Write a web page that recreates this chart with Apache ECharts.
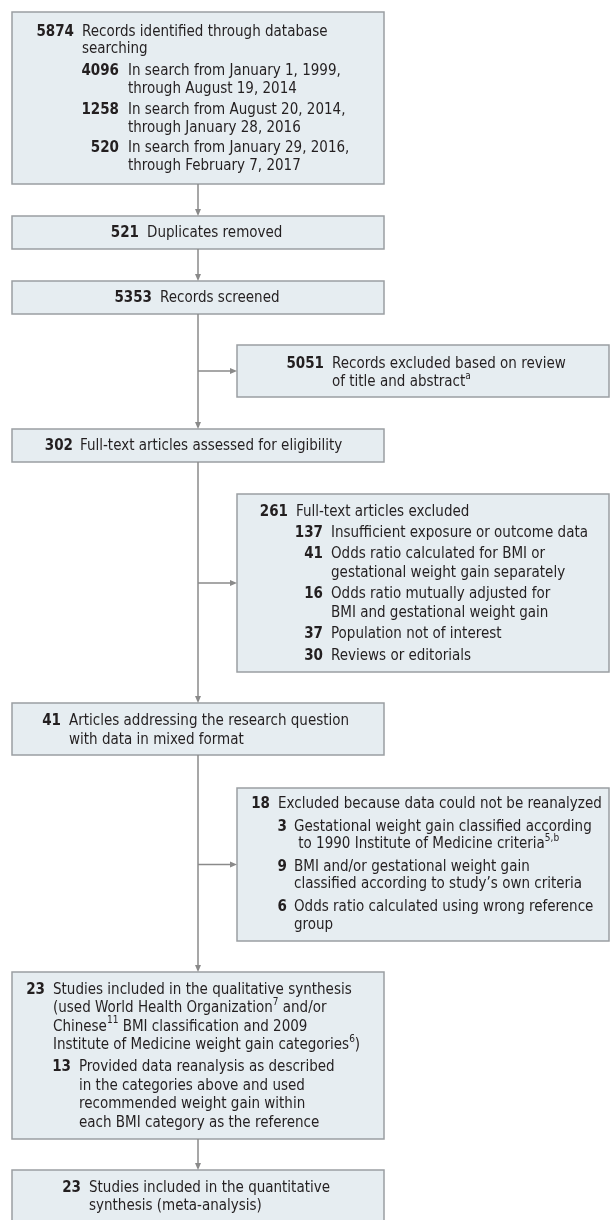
<!DOCTYPE html>
<html>
<head>
<meta charset="utf-8">
<script src="https://cdn.jsdelivr.net/npm/echarts@6/dist/echarts.min.js"></script>
<style>html,body{margin:0;padding:0;background:#fff;}#c{width:610px;height:1220px;}</style>
</head>
<body>
<div id="c"></div>
<script>
// ---------- DATA ----------
const mainCounts = [5874, 521, 5353, 302, 41, 23, 23];
const mainLabels = [
  ['Records identified through database', 'searching'],
  ['Duplicates removed'],
  ['Records screened'],
  ['Full-text articles assessed for eligibility'],
  ['Articles addressing the research question', 'with data in mixed format'],
  ['Studies included in the qualitative synthesis', '(used World Health Organization{s|7} and/or', 'Chinese{s|11} BMI classification and 2009', 'Institute of Medicine weight gain categories{s|6})'],
  ['Studies included in the quantitative', 'synthesis (meta-analysis)']
];
const searchCounts = [4096, 1258, 520];
const searchLabels = [
  ['In search from January 1, 1999,', 'through August 19, 2014'],
  ['In search from August 20, 2014,', 'through January 28, 2016'],
  ['In search from January 29, 2016,', 'through February 7, 2017']
];
const excludedCounts = [5051, 261, 18];
const excludedLabels = [
  ['Records excluded based on review', 'of title and abstract{s|a}'],
  ['Full-text articles excluded'],
  ['Excluded because data could not be reanalyzed']
];
const fullTextReasonCounts = [137, 41, 16, 37, 30];
const fullTextReasonLabels = [
  ['Insufficient exposure or outcome data'],
  ['Odds ratio calculated for BMI or', 'gestational weight gain separately'],
  ['Odds ratio mutually adjusted for', 'BMI and gestational weight gain'],
  ['Population not of interest'],
  ['Reviews or editorials']
];
const reanalysisReasonCounts = [3, 9, 6];
const reanalysisReasonLabels = [
  ['Gestational weight gain classified according', ' to 1990 Institute of Medicine criteria{s|5,b}'],
  ['BMI and/or gestational weight gain', 'classified according to study\u2019s own criteria'],
  ['Odds ratio calculated using wrong reference', 'group']
];
const includedSubCounts = [13];
const includedSubLabels = [
  ['Provided data reanalysis as described', 'in the categories above and used', 'recommended weight gain within', 'each BMI category as the reference']
];

// ---------- LAYOUT ----------
const FONT = "'DejaVu Sans Condensed', 'Liberation Sans Narrow', 'DejaVu Sans', sans-serif";
const FS = 15;
const TEXT_COLOR = '#231f20';
const BOX_FILL = '#e6edf1';
const BOX_STROKE = '#9b9fa2';
const LINE_COLOR = '#8a8a8a';
const CX = 198, BRANCH_X = 237;

const boxes = [
  {x: 12, y: 12, w: 372, h: 172, items: [
    {n: mainCounts[0], l: mainLabels[0], nr: 74, tx: 82, y: 32, step: 17.6},
    {n: searchCounts[0], l: searchLabels[0], nr: 119, tx: 128, y: 71, step: 18},
    {n: searchCounts[1], l: searchLabels[1], nr: 119, tx: 128, y: 110, step: 18},
    {n: searchCounts[2], l: searchLabels[2], nr: 119, tx: 128, y: 148, step: 18}
  ]},
  {x: 12, y: 216, w: 372, h: 33, items: [{n: mainCounts[1], l: mainLabels[1], nr: 139, tx: 147, y: 233, step: 18}]},
  {x: 12, y: 281, w: 372, h: 33, items: [{n: mainCounts[2], l: mainLabels[2], nr: 152, tx: 160, y: 298, step: 18}]},
  {x: 237, y: 345, w: 372, h: 52, items: [{n: excludedCounts[0], l: excludedLabels[0], nr: 324, tx: 332, y: 364, step: 18}]},
  {x: 12, y: 429, w: 372, h: 33, items: [{n: mainCounts[3], l: mainLabels[3], nr: 73, tx: 80, y: 446, step: 18}]},
  {x: 237, y: 494, w: 372, h: 178, items: [
    {n: excludedCounts[1], l: excludedLabels[1], nr: 288, tx: 296, y: 512, step: 19},
    {n: fullTextReasonCounts[0], l: fullTextReasonLabels[0], nr: 323, tx: 331, y: 533, step: 19},
    {n: fullTextReasonCounts[1], l: fullTextReasonLabels[1], nr: 323, tx: 331, y: 554, step: 19.5},
    {n: fullTextReasonCounts[2], l: fullTextReasonLabels[2], nr: 323, tx: 331, y: 594, step: 19.5},
    {n: fullTextReasonCounts[3], l: fullTextReasonLabels[3], nr: 323, tx: 331, y: 634, step: 19},
    {n: fullTextReasonCounts[4], l: fullTextReasonLabels[4], nr: 323, tx: 331, y: 656, step: 19}
  ]},
  {x: 12, y: 703, w: 372, h: 52, items: [{n: mainCounts[4], l: mainLabels[4], nr: 61, tx: 69, y: 721, step: 19}]},
  {x: 237, y: 788, w: 372, h: 153, items: [
    {n: excludedCounts[2], l: excludedLabels[2], nr: 270, tx: 278, y: 804, step: 18},
    {n: reanalysisReasonCounts[0], l: reanalysisReasonLabels[0], nr: 287, tx: 294, y: 827, step: 17.5},
    {n: reanalysisReasonCounts[1], l: reanalysisReasonLabels[1], nr: 287, tx: 294, y: 867, step: 17.5},
    {n: reanalysisReasonCounts[2], l: reanalysisReasonLabels[2], nr: 287, tx: 294, y: 907, step: 18}
  ]},
  {x: 12, y: 972, w: 372, h: 167, items: [
    {n: mainCounts[5], l: mainLabels[5], nr: 45, tx: 53, y: 990, step: 18.4},
    {n: includedSubCounts[0], l: includedSubLabels[0], nr: 71, tx: 79, y: 1067, step: 18.7}
  ]},
  {x: 12, y: 1170, w: 372, h: 52, items: [{n: mainCounts[6], l: mainLabels[6], nr: 81, tx: 89, y: 1188, step: 18}]}
];

// connectors: vertical segments between boxes, with optional side branch
const connectors = [
  {from: 0, to: 1},
  {from: 1, to: 2},
  {from: 2, to: 4, branch: 3},
  {from: 4, to: 6, branch: 5},
  {from: 6, to: 8, branch: 7},
  {from: 8, to: 9}
];

// ---------- BUILD ----------
const els = [];
const richStyles = {
  t: {fontFamily: FONT, fontSize: FS, color: TEXT_COLOR, lineHeight: 22},
  s: {fontFamily: FONT, fontSize: 10, color: TEXT_COLOR, lineHeight: 10, verticalAlign: 'top'}
};
function wrapRich(str) {
  // wrap plain parts in {t|...}, keep {s|...} parts
  const parts = [];
  const re = /\{s\|([^}]*)\}/g;
  let last = 0, m;
  while ((m = re.exec(str))) {
    if (m.index > last) parts.push('{t|' + str.slice(last, m.index) + '}');
    parts.push('{s|' + m[1] + '}');
    last = re.lastIndex;
  }
  if (last < str.length) parts.push('{t|' + str.slice(last) + '}');
  return parts.join('');
}
const arrowHead = (x, y, dir) => {
  const a = 3, L = 7;
  const pts = dir === 'down' ? [[x - a, y - L], [x + a, y - L], [x, y]] : [[x - L, y - a], [x - L, y + a], [x, y]];
  els.push({type: 'polygon', shape: {points: pts}, style: {fill: LINE_COLOR}, z: 5});
};
connectors.forEach(c => {
  const a = boxes[c.from], b = boxes[c.to];
  const y1 = a.y + a.h, y2 = b.y;
  els.push({type: 'line', shape: {x1: CX, y1: y1, x2: CX, y2: y2 - 6}, style: {stroke: LINE_COLOR, lineWidth: 1.5}, z: 4});
  arrowHead(CX, y2, 'down');
  if (c.branch !== undefined) {
    const br = boxes[c.branch];
    const by = br.y + br.h / 2;
    els.push({type: 'line', shape: {x1: CX, y1: by, x2: BRANCH_X - 6, y2: by}, style: {stroke: LINE_COLOR, lineWidth: 1.5}, z: 4});
    arrowHead(BRANCH_X, by, 'right');
  }
});
boxes.forEach(b => {
  els.push({type: 'rect', shape: {x: b.x, y: b.y, width: b.w, height: b.h}, style: {fill: BOX_FILL, stroke: BOX_STROKE, lineWidth: 1.5}, z: 2});
  b.items.forEach(it => {
    els.push({type: 'text', x: it.nr, y: it.y, z: 6, style: {
      text: String(it.n), fontFamily: FONT, fontSize: FS, fontWeight: 'bold', fill: TEXT_COLOR,
      textAlign: 'right', textVerticalAlign: 'middle'
    }});
    it.l.forEach((line, i) => {
      els.push({type: 'text', x: it.tx, y: it.y + i * it.step, z: 6, style: {
        text: wrapRich(line), rich: richStyles, fontFamily: FONT, fontSize: FS, fill: TEXT_COLOR,
        textAlign: 'left', textVerticalAlign: 'middle'
      }});
    });
  });
});

const chart = echarts.init(document.getElementById('c'), null, {renderer: 'canvas'});
chart.setOption({backgroundColor: '#ffffff', animation: false, graphic: {elements: els}});
</script>
</body>
</html>
